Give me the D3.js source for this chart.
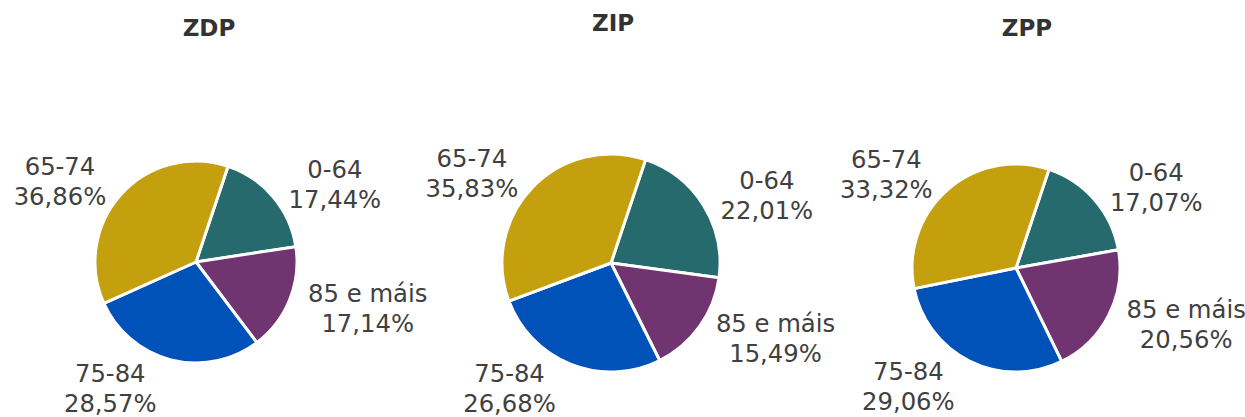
<!DOCTYPE html>
<html>
<head>
<meta charset="utf-8">
<script src="https://cdn.jsdelivr.net/npm/d3@7"></script>
<style>
  body { margin: 0; background: #fff; }
  svg { display: block; font-family: 'DejaVu Sans', Verdana, sans-serif; }
  .title { font-weight: bold; font-size: 23px; fill: #333; }
  .lbl { font-size: 24.3px; fill: #404040; }
</style>
</head>
<body>
<div id="chart"></div>
<script>
// age groups, in drawing order (clockwise)
const groups = ['0-64', '85 e máis', '75-84', '65-74'];
const zones = ['ZDP', 'ZIP', 'ZPP'];
const zdp = [17.44, 17.14, 28.57, 36.86];
const zip = [22.01, 15.49, 26.68, 35.83];
const zpp = [17.07, 20.56, 29.06, 33.32];
const values = [zdp, zip, zpp];

const COLORS = ['#266A6D', '#703471', '#0052B8', '#C5A00E'];

const W = 1245, H = 417;
// layout per panel: pie center, radius, title position
const panels = [
  { cx: 196, cy: 262, r: 101, tx: 209, ty: 36 },
  { cx: 611, cy: 263, r: 109, tx: 613, ty: 31 },
  { cx: 1016, cy: 268, r: 104, tx: 1027, ty: 36 }
];
const startAngle = 18.5 * Math.PI / 180;
const lineH = 30;
const gap = 20;

const fmt = function (v) { return d3.format('.2f')(v).replace('.', ',') + '%'; };

const svg = d3.select('#chart').append('svg')
  .attr('width', W)
  .attr('height', H);

const pie = d3.pie()
  .sort(null)
  .startAngle(startAngle)
  .endAngle(startAngle + 2 * Math.PI);

zones.forEach(function (zone, z) {
  const p = panels[z];

  svg.append('text')
    .attr('class', 'title')
    .attr('x', p.tx)
    .attr('y', p.ty)
    .attr('text-anchor', 'middle')
    .text(zone);

  const g = svg.append('g')
    .attr('transform', 'translate(' + p.cx + ',' + p.cy + ')');

  const arc = d3.arc().innerRadius(0).outerRadius(p.r);
  const arcs = pie(values[z]);

  g.selectAll('.slice')
    .data(arcs)
    .enter().append('path')
    .attr('class', 'slice')
    .attr('d', arc)
    .style('fill', function (d, i) { return COLORS[i]; })
    .style('stroke', '#fff')
    .style('stroke-width', 3)
    .style('stroke-linejoin', 'round');

  arcs.forEach(function (d, i) {
    const a = (d.startAngle + d.endAngle) / 2;
    const dx = Math.sin(a), dy = -Math.cos(a);
    const px = (p.r + gap) * dx, py = (p.r + gap) * dy;

    const t = g.append('text').attr('class', 'lbl').attr('text-anchor', 'middle');
    const l1 = t.append('tspan').text(groups[i]);
    const l2 = t.append('tspan').text(fmt(values[z][i]));
    const w = Math.max(l1.node().getComputedTextLength(), l2.node().getComputedTextLength());

    // box hangs off the anchor point on the outer side
    let xc = dx >= 0 ? px + w / 2 : px - w / 2;
    let yc = py;
    // not too close to the pie
    const dist = Math.sqrt(xc * xc + yc * yc);
    const minDist = p.r + 56;
    if (dist < minDist) {
      xc *= minDist / dist;
      yc *= minDist / dist;
    }
    // keep box inside the picture
    const maxY = H - 29 - p.cy;
    if (yc > maxY) yc = maxY;

    l1.attr('x', xc).attr('y', yc - 6);
    l2.attr('x', xc).attr('y', yc - 6 + lineH);
  });
});
</script>
</body>
</html>
